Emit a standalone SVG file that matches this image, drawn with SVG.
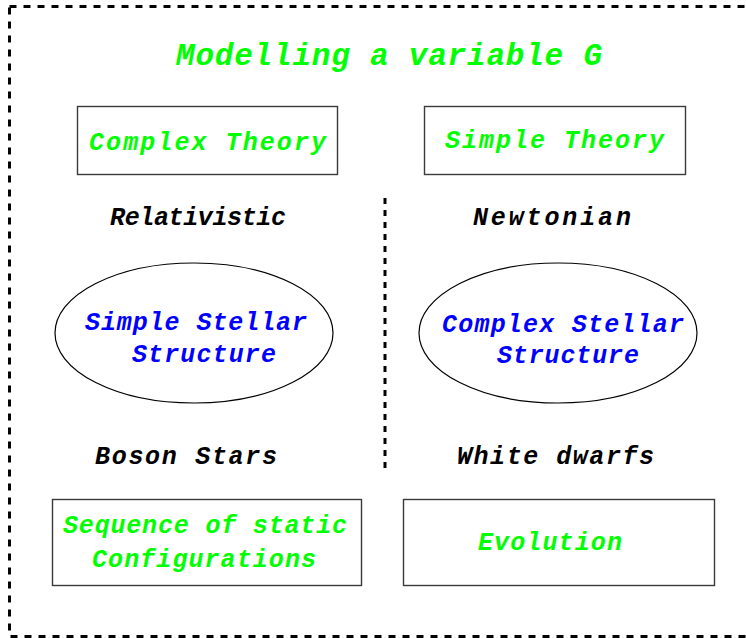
<svg xmlns="http://www.w3.org/2000/svg" width="746" height="638" viewBox="0 0 746 638">
  <style>
    text { font-family: "Liberation Mono", "Courier New", monospace; font-weight: bold; font-style: italic; font-size: 25px; }
    .green { fill: #00ff00; }
    .blue { fill: #0000ff; }
    .black { fill: #000000; }
    .title { font-size: 31px; }
    .box { fill: #ffffff; stroke: #3a3a3a; stroke-width: 1.4; }
    .ell { fill: #ffffff; stroke: #000000; stroke-width: 1.2; }
    .frame { fill: none; stroke: #000000; stroke-width: 3; stroke-dasharray: 7 7; }
    .divider { fill: none; stroke: #000000; stroke-width: 3; stroke-dasharray: 6 6; }
  </style>
  <rect width="746" height="638" fill="#ffffff"/>
  <rect class="frame" x="9.5" y="6.5" width="760" height="630"/>

  <g id="title">
    <text class="green title" x="176" y="65" textLength="426" lengthAdjust="spacing">Modelling a variable G</text>
  </g>

  <g id="connectors">
    <line class="divider" x1="385" y1="198" x2="385" y2="473"/>
  </g>

  <g id="complex-theory">
    <rect class="box" x="77.5" y="106.5" width="260" height="68"/>
    <text class="green" x="89" y="150" textLength="237" lengthAdjust="spacing">Complex Theory</text>
  </g>
  <g id="simple-theory">
    <rect class="box" x="424.5" y="106.5" width="261" height="68"/>
    <text class="green" x="445" y="148" textLength="219" lengthAdjust="spacing">Simple Theory</text>
  </g>

  <g id="relativistic">
    <text class="black" x="110" y="225" textLength="176" lengthAdjust="spacing">Relativistic</text>
  </g>
  <g id="newtonian">
    <text class="black" x="473" y="225" textLength="158" lengthAdjust="spacing">Newtonian</text>
  </g>

  <g id="simple-stellar-structure">
    <ellipse class="ell" cx="194" cy="333" rx="139" ry="70"/>
    <text class="blue" x="85" y="330" textLength="222" lengthAdjust="spacing">Simple Stellar</text>
    <text class="blue" x="132" y="362" textLength="144" lengthAdjust="spacing">Structure</text>
  </g>
  <g id="complex-stellar-structure">
    <ellipse class="ell" cx="558" cy="333" rx="139" ry="70"/>
    <text class="blue" x="442" y="332" textLength="242" lengthAdjust="spacing">Complex Stellar</text>
    <text class="blue" x="497" y="363" textLength="142" lengthAdjust="spacing">Structure</text>
  </g>

  <g id="boson-stars">
    <text class="black" x="95" y="464" textLength="182" lengthAdjust="spacing">Boson Stars</text>
  </g>
  <g id="white-dwarfs">
    <text class="black" x="457" y="464" textLength="197" lengthAdjust="spacing">White dwarfs</text>
  </g>

  <g id="static-configurations">
    <rect class="box" x="52.5" y="499.5" width="309" height="86"/>
    <text class="green" x="63" y="533" textLength="284" lengthAdjust="spacing">Sequence of static</text>
    <text class="green" x="92" y="567" textLength="224" lengthAdjust="spacing">Configurations</text>
  </g>
  <g id="evolution">
    <rect class="box" x="403.5" y="499.5" width="311" height="86"/>
    <text class="green" x="478" y="550" textLength="144" lengthAdjust="spacing">Evolution</text>
  </g>
</svg>
